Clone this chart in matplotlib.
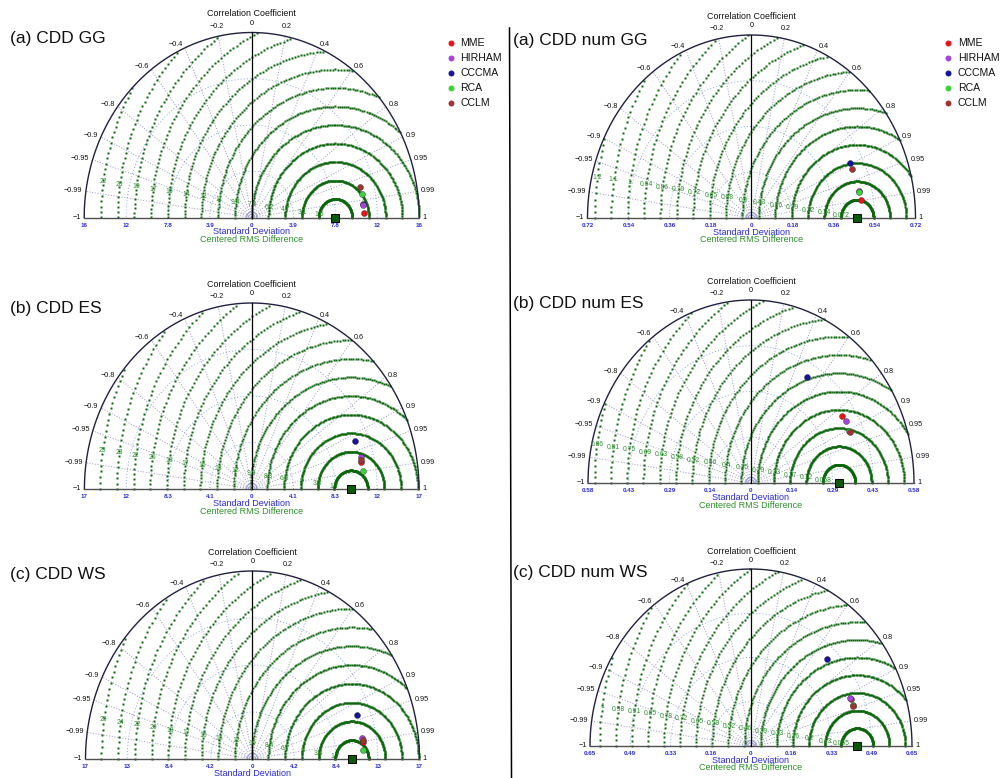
import numpy as np
import matplotlib
matplotlib.use("Agg")
import matplotlib.pyplot as plt

plt.rcParams['font.family'] = ['Liberation Sans', 'DejaVu Sans']

W, H = 1003, 778

# ---- data -------------------------------------------------------------
models = ["MME", "HIRHAM", "CCCMA", "RCA", "CCLM"]
model_colors = ["#e8141c", "#a645d8", "#14149c", "#3cd23c", "#a03434"]

titles = ["(a) CDD GG", "(b) CDD ES", "(c) CDD WS",
          "(a) CDD num GG", "(b) CDD num ES", "(c) CDD num WS"]

# maximum standard deviation shown on each diagram
std_max = [15.6, 16.56, 16.8, 0.72, 0.576, 0.652]
# standard deviation of the observed reference
ref_std = [7.8, 9.83, 10.0, 0.464, 0.311, 0.43]

# model statistics, ordered as in `models`
cdd_gg_std = [10.46, 10.45, 10.43, 10.44, 10.44]
cdd_gg_corr = [0.9993, 0.9950, 0.9938, 0.9816, 0.9686]
cdd_es_std = [11.09, 11.18, 11.09, 11.16, 11.13]
cdd_es_corr = [0.976, 0.968, 0.922, 0.990, 0.972]
cdd_ws_std = [11.20, 11.22, 11.23, 11.16, 11.22]
cdd_ws_corr = [0.991, 0.986, 0.937, 0.9973, 0.989]
num_gg_std = [0.484, 0.483, 0.482, 0.4836, 0.483]
num_gg_corr = [0.989, 0.975, 0.895, 0.977, 0.918]
num_es_std = [0.385, 0.387, 0.387, 0.383, 0.384]
num_es_corr = [0.837, 0.863, 0.512, 0.903, 0.907]
num_ws_std = [0.440, 0.439, 0.4435, 0.438, 0.440]
num_ws_corr = [0.920, 0.914, 0.694, 0.940, 0.943]

panel_std = [cdd_gg_std, cdd_es_std, cdd_ws_std, num_gg_std, num_es_std, num_ws_std]
panel_corr = [cdd_gg_corr, cdd_es_corr, cdd_ws_corr, num_gg_corr, num_es_corr, num_ws_corr]

corr_ticks = [0.2, 0.4, 0.6, 0.8, 0.9, 0.95, 0.99]
std_tick_fracs = [0.25, 0.5, 0.75, 1.0]
rms_step_frac = 0.1

# ---- layout (pixels): origin x, origin y, horizontal radius, vertical radius
layout = [(251.7, 217.5, 167.5, 185), (251.7, 489, 167.3, 186), (252.5, 759, 167, 188),
          (751.5, 218, 164, 183), (751, 483, 163, 183), (751, 746, 161, 177)]
title_pos = [(10, 38), (10, 308), (10, 575), (513, 40), (513, 303), (513, 572)]

GREEN = "#0a660a"
LABEL_GREEN = "#2f8f2f"
BLUE = "#2a2ad8"
RIM = "#202040"

fig = plt.figure(figsize=(W / 100, H / 100), dpi=100)

# overlay axes in pixel coordinates for titles and separator
ov = fig.add_axes([0, 0, 1, 1])
ov.set_xlim(0, W)
ov.set_ylim(H, 0)
ov.axis('off')
ov.plot([509.5, 511.5], [28, H], color='black', lw=1.1)


def taylor(idx):
    R = std_max[idx]
    ref = ref_std[idx]
    ox, oy, hx, vy = layout[idx]
    xl, xr, yb, yt = -1.3, 1.3, -0.2, 1.2
    left_px = ox + xl * hx
    bottom_px = oy - yb * vy
    ax = fig.add_axes([left_px / W, 1 - bottom_px / H, (xr - xl) * hx / W, (yt - yb) * vy / H])
    ax.set_xlim(xl * R, xr * R)
    ax.set_ylim(yb * R, yt * R)
    ax.axis('off')
    ax.patch.set_alpha(0)
    px = R / vy  # data units per vertical pixel

    th = np.linspace(0, np.pi, 500)
    # standard deviation arcs (dotted)
    for f in std_tick_fracs[:-1]:
        ax.plot(f * R * np.cos(th), f * R * np.sin(th), color='#86a6e6',
                lw=0.7, ls=(0, (1, 2.2)))
    ax.plot(0.03 * R * np.cos(th), 0.03 * R * np.sin(th), color='#8aa0e0', lw=0.7)
    # correlation rays (dotted)
    for c in corr_ticks:
        for s in (1, -1):
            a = np.arccos(s * c)
            ax.plot([0, R * np.cos(a)], [0, R * np.sin(a)], color='#9a94c4',
                    lw=0.7, ls=(0, (1, 1.8)))

    # centred RMS difference circles, sampled at a fixed angular step
    phi = np.deg2rad(np.arange(0, 360, 1.2))
    step = rms_step_frac * R
    k = 1
    while k * step < R + ref - 1e-9:
        rr = k * step
        x = ref + rr * np.cos(phi)
        y = rr * np.sin(phi)
        m = (y >= 0) & (x ** 2 + y ** 2 <= R ** 2)
        ax.plot(x[m], y[m], 's', ms=2.15, color=GREEN, mec='none')
        la = np.deg2rad(172)
        lx, ly = ref + rr * np.cos(la), rr * np.sin(la)
        if lx ** 2 + ly ** 2 < (0.97 * R) ** 2:
            ax.text(lx, ly, f"{rr:.2g}", fontsize=4.9, color=LABEL_GREEN,
                    ha='center', va='center')
        k += 1

    # frame
    ax.plot(R * np.cos(th), R * np.sin(th), color=RIM, lw=1.0)
    ax.plot([-R, R], [0, 0], color='#505050', lw=1.0)
    ax.plot([0, 0], [0, R], color='black', lw=0.9)

    # correlation labels
    for c in corr_ticks + [1.0]:
        for s in (1, -1):
            v = s * c
            a = np.arccos(v)
            if abs(v) <= 0.3:
                ha, r = 'center', 1.055
            else:
                ha, r = ('left' if v > 0 else 'right'), 1.02
            txt = f"{v:g}"
            if v < 0:
                txt = "\u2212" + txt[1:]
            ax.text(r * R * np.cos(a), r * R * np.sin(a), txt, fontsize=5.2,
                    ha=ha, va='center', color='#111111')
    ax.text(0, 1.05 * R, "0", fontsize=5.2, ha='center', va='center')
    ax.text(0, 1.10 * R, "Correlation Coefficient", fontsize=6.4, ha='center',
            va='center', color='#111111')

    # standard deviation tick labels
    for f in [-1, -0.75, -0.5, -0.25, 0, 0.25, 0.5, 0.75, 1]:
        v = f * R
        ax.text(v, -8.0 * px, f"{abs(v):.2g}", fontsize=4.5, fontweight='bold',
                color=BLUE, ha='center', va='center')
    ax.text(0, -14.5 * px, "Standard Deviation", fontsize=6.5, color=BLUE,
            ha='center', va='center')
    # the axis title below only fits when the diagram is not at the page bottom
    if oy + 27 < H:
        ax.text(0, -22.0 * px, "Centered RMS Difference", fontsize=6.5,
                color=LABEL_GREEN, ha='center', va='center')

    # observed reference
    ax.plot([ref], [0], 's', ms=5.2, color='#0b5a0b', mec='black', mew=0.7,
            clip_on=False, zorder=5)
    # models
    order = [2, 0, 1, 3, 4]
    for i in order:
        sd = panel_std[idx][i]
        cr = panel_corr[idx][i]
        a = np.arccos(cr)
        ax.plot([sd * np.cos(a)], [sd * np.sin(a)], 'o', ms=4.3,
                color=model_colors[i], mec='#333333', mew=0.3, zorder=6)

    tx, ty = title_pos[idx]
    ov.text(tx, ty, titles[idx], fontsize=12.5, ha='left', va='center', color='#111111')


for i in range(6):
    taylor(i)

# legends
for lx, ly0, clip_right in [(451, 43.3, 504), (948.3, 43.3, W)]:
    lax = fig.add_axes([(lx - 8) / W, 1 - 115 / H, (clip_right - lx + 8) / W, 85 / H])
    lax.set_xlim(lx - 8, clip_right)
    lax.set_ylim(115, 30)
    lax.axis('off')
    lax.patch.set_alpha(0)
    for j, (name, col) in enumerate(zip(models, model_colors)):
        y = ly0 + 15 * j
        lax.plot([lx], [y], 'o', ms=4.3, color=col, mec='none')
        lax.text(lx + 9.5, y, name, fontsize=7.6, ha='left', va='center',
                 color='#111111', clip_on=True)

fig.savefig("out.png", dpi=100)
